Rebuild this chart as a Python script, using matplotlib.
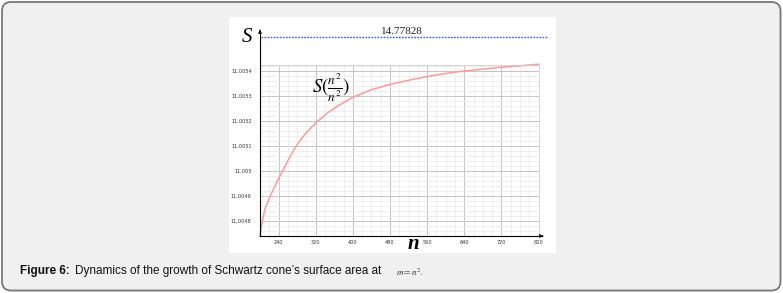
import numpy as np
import matplotlib
matplotlib.use("Agg")
import matplotlib.pyplot as plt
from matplotlib.patches import FancyBboxPatch, Rectangle
from matplotlib.transforms import IdentityTransform
from matplotlib.ticker import MultipleLocator, FuncFormatter

# values
n_vals = [200, 205, 211, 222, 240, 261, 277, 297, 320, 345, 369, 400, 440, 481,
          520, 560, 600, 640, 720, 800]
s_vals = [11.00474, 11.0048, 11.00485, 11.0049, 11.00497, 11.005045, 11.005098,
          11.005148, 11.005192, 11.005232, 11.005262, 11.005295, 11.005325, 11.005347,
          11.005363, 11.005378, 11.00539, 11.0054, 11.005415, 11.005427]
x_ticks = [240, 320, 400, 480, 560, 640, 720, 800]
y_ticks = [11.0048, 11.0049, 11.005, 11.0051, 11.0052, 11.0053, 11.0054]
limit_value = "14.77828"
caption_bold = "Figure 6:"
caption_text = "Dynamics of the growth of Schwartz cone’s surface area at"

plt.rcParams["mathtext.fontset"] = "stix"

W, H = 783, 293
fig = plt.figure(figsize=(W / 100, H / 100), dpi=100, facecolor="white")


def fx(x):
    return x / W


def fy(y):
    return 1 - y / H


# outer rounded frame and white chart panel (pixel coords, y up)
frame = FancyBboxPatch((2, 2.5), 778.5, 288.5, boxstyle="round,pad=0,rounding_size=9",
                       transform=IdentityTransform(), facecolor="#f0f0f0",
                       edgecolor="#777777", linewidth=1.3, zorder=-3)
fig.patches.append(frame)
panel = Rectangle((229, H - 253), 327, 236, transform=IdentityTransform(),
                  facecolor="white", edgecolor="none", zorder=-2)
fig.patches.append(panel)

# plot area
ax = fig.add_axes([fx(260), fy(236), fx(538.6) - fx(260), fy(65) - fy(236)])
ax.set_facecolor("white")
ax.plot(n_vals, s_vals, color="#ff9a9a", lw=1.1, clip_on=False,
        solid_joinstyle="round")
ax.set_xlim(200, 800)
ax.set_ylim(11.00474, 11.005424)
ax.set_xticks(x_ticks)
ax.set_yticks(y_ticks)
ax.xaxis.set_minor_locator(MultipleLocator(20))
ax.yaxis.set_minor_locator(MultipleLocator(0.00002))
ax.yaxis.set_major_formatter(FuncFormatter(lambda v, p: ("%.4f" % v).rstrip("0").replace(".", ",")))
ax.grid(which="major", color="#c4c4c4", lw=0.7)
ax.grid(which="minor", color="#e9e9e9", lw=0.5)
ax.set_axisbelow(True)
ax.tick_params(which="both", length=0, labelsize=3.6, colors="#333333", pad=6)
ax.tick_params(axis="x", pad=3)
for side in ["top", "right"]:
    ax.spines[side].set_color("#d0d0d0")
    ax.spines[side].set_linewidth(0.6)
for side in ["left", "bottom"]:
    ax.spines[side].set_visible(False)

# axes with arrows
fig.add_artist(plt.Line2D([fx(260), fx(260)], [fy(236), fy(31)], color="black", lw=0.8))
ax.annotate("", xy=(fx(260), fy(27)), xytext=(fx(260), fy(33)), xycoords="figure fraction",
            arrowprops=dict(arrowstyle="-|>", color="black", lw=0.6, mutation_scale=5))
fig.add_artist(plt.Line2D([fx(260), fx(542)], [fy(236), fy(236)], color="black", lw=0.8))
ax.annotate("", xy=(fx(546), fy(236)), xytext=(fx(540), fy(236)), xycoords="figure fraction",
            arrowprops=dict(arrowstyle="-|>", color="black", lw=0.6, mutation_scale=5))

# asymptote line
fig.add_artist(plt.Line2D([fx(261), fx(548)], [fy(37), fy(37)], color="#3355ff",
                          lw=1.0, linestyle=(0, (1.2, 1.0))))
fig.text(fx(402), fy(31), limit_value, ha="center", va="center", fontsize=8,
         family="Liberation Serif", color="#222222")

fig.text(fx(247), fy(38), "S", ha="center", va="center", fontsize=15,
         family="Liberation Serif", style="italic")
fig.text(fx(413), fy(244), "n", ha="center", va="center", fontsize=15,
         family="Liberation Serif", style="italic", weight="bold")

fig.text(fx(331), fy(88), r"$S(\frac{n^2}{n^2})$", ha="center", va="center", fontsize=13.5)

# caption
fig.text(fx(20), fy(271), caption_bold, ha="left", va="center", fontsize=8.5,
         family="Liberation Sans", weight="bold", color="#111111")
fig.text(fx(75), fy(271), caption_text, ha="left", va="center", fontsize=8.5,
         family="Liberation Sans", color="#111111")
fig.text(fx(396), fy(272), r"$m = n^2$.", ha="left", va="center", fontsize=6.5, color="#333333")

fig.savefig("out.png", dpi=100, facecolor="white")
